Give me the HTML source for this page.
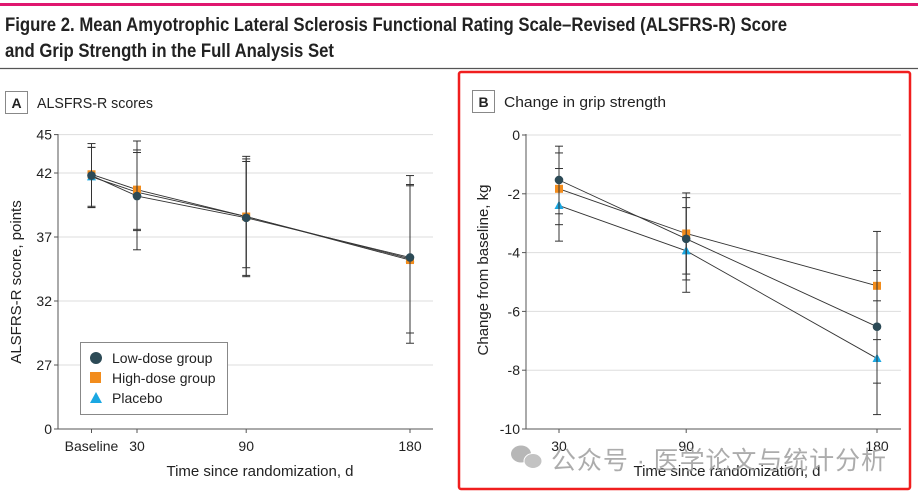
<!DOCTYPE html>
<html><head><meta charset="utf-8">
<style>
body{margin:0;background:#fff;width:918px;height:494px;overflow:hidden;font-family:"Liberation Sans","Noto Sans CJK SC",sans-serif;}
svg text{font-family:"Liberation Sans","Noto Sans CJK SC",sans-serif;}
</style></head><body>
<svg id="fig" width="918" height="494" viewBox="0 0 918 494" xmlns="http://www.w3.org/2000/svg">
<rect x="0" y="3" width="918" height="3" fill="#e0176f"/>
<text x="5" y="31" font-size="19" font-weight="bold" fill="#222" textLength="782" lengthAdjust="spacingAndGlyphs">Figure 2. Mean Amyotrophic Lateral Sclerosis Functional Rating Scale–Revised (ALSFRS-R) Score</text>
<text x="5" y="57" font-size="19" font-weight="bold" fill="#222" textLength="329" lengthAdjust="spacingAndGlyphs">and Grip Strength in the Full Analysis Set</text>
<line x1="0" y1="68.5" x2="918" y2="68.5" stroke="#555" stroke-width="1.3"/>
<rect x="459" y="72" width="451" height="417" rx="2" fill="none" stroke="#f01e1e" stroke-width="2.5"/>

<rect x="5.5" y="91.5" width="22" height="22" fill="none" stroke="#888"/>
<text x="16.5" y="108" font-size="14" font-weight="bold" text-anchor="middle" fill="#222">A</text>
<text x="37" y="108" font-size="15" fill="#222" textLength="116" lengthAdjust="spacingAndGlyphs">ALSFRS-R scores</text>

<rect x="472.5" y="90.5" width="22" height="22" fill="none" stroke="#888"/>
<text x="483.5" y="107" font-size="14" font-weight="bold" text-anchor="middle" fill="#222">B</text>
<text x="504" y="107" font-size="15" fill="#222" textLength="162" lengthAdjust="spacingAndGlyphs">Change in grip strength</text>

<g id="panelA"></g>
<g id="panelB"></g>

<g>
<rect x="80.5" y="342.5" width="147" height="72" fill="#fff" stroke="#888"/>
<g><circle cx="96" cy="358" r="6" fill="#2c4a56"/><text x="112" y="363" font-size="14" fill="#222">Low-dose group</text></g>
<g><rect x="90" y="372" width="11" height="11" fill="#f28c1c"/><text x="112" y="383" font-size="14" fill="#222">High-dose group</text></g>
<g><polygon points="96,392 102,403 90,403" fill="#1aa7e2"/><text x="112" y="403" font-size="14" fill="#222">Placebo</text></g>
</g>

<g id="panelOverlay"></g>
<g opacity="0.9">
<ellipse cx="521" cy="454" rx="10" ry="8.5" fill="#b0b0b0"/>
<ellipse cx="533" cy="461" rx="9" ry="7.5" fill="#bdbdbd" stroke="#fff" stroke-width="1"/>
<text x="551" y="469" font-size="25" fill="#a4a4a4" textLength="335">公众号 · 医学论文与统计分析</text>
</g>
</svg>
<script>
// Panel A data (ALSFRS-R)
const aCategories = ["Baseline","30","90","180"];
const aDays = [5, 30, 90, 180];
const aYTicks = [27, 32, 37, 42, 45];
const aLow = [41.8, 40.2, 38.5, 35.4];
const aLowLo = [39.3, 36.0, 33.9, 29.5];
const aLowHi = [44.3, 44.5, 43.1, 41.1];
const aHigh = [41.9, 40.7, 38.6, 35.2];
const aHighLo = [39.4, 37.6, 34.0, 28.7];
const aHighHi = [44.0, 43.8, 43.3, 41.8];
const aPlac = [41.7, 40.5, 38.6, 35.3];
const aPlacLo = [39.3, 37.5, 34.6, 29.5];
const aPlacHi = [44.0, 43.6, 42.9, 41.0];
// Panel B data (grip strength change, kg)
const bCategories = ["30","90","180"];
const bDays = [30, 90, 180];
const bYTicks = [0, -2, -4, -6, -8, -10];
const bLow = [-1.53, -3.53, -6.52];
const bLowLo = [-2.68, -4.93, -8.44];
const bLowHi = [-0.38, -2.13, -4.61];
const bHigh = [-1.83, -3.35, -5.13];
const bHighLo = [-3.05, -4.73, -6.96];
const bHighHi = [-0.61, -1.97, -3.28];
const bPlac = [-2.40, -3.94, -7.60];
const bPlacLo = [-3.61, -5.35, -9.51];
const bPlacHi = [-1.14, -2.47, -5.64];

const NS = "http://www.w3.org/2000/svg";
function mk(parent, tag, attrs, text){
  const e = document.createElementNS(NS, tag);
  for (const k in attrs) e.setAttribute(k, attrs[k]);
  if (text !== undefined) e.textContent = text;
  parent.appendChild(e);
  return e;
}
const COL = {low:"#2c4a56", high:"#f28c1c", plac:"#1aa7e2"};

function marker(g, kind, x, y){
  let m;
  if (kind === "low") m = mk(g, "circle", {cx:x, cy:y, r:4.3, fill:COL.low});
  else if (kind === "high") m = mk(g, "rect", {x:x-4, y:y-4, width:8, height:8, fill:COL.high});
  else m = mk(g, "polygon", {points:`${x},${y-5} ${x+4.5},${y+3.5} ${x-4.5},${y+3.5}`, fill:COL.plac});
  return m;
}

function series(g, name, kind, days, vals, lo, hi, xs, ys){
  const sg = mk(g, "g", {});
  
  
  days.forEach((d,i)=>{
    const x = xs(d);
    const eb = mk(sg, "g", {stroke:"#333", "stroke-width":1});
    
    
    mk(eb, "line", {x1:x, x2:x, y1:ys(lo[i]), y2:ys(hi[i])});
    mk(eb, "line", {x1:x-4, x2:x+4, y1:ys(lo[i]), y2:ys(lo[i])});
    mk(eb, "line", {x1:x-4, x2:x+4, y1:ys(hi[i]), y2:ys(hi[i])});
  });
  const pts = days.map((d,i)=>xs(d)+","+ys(vals[i])).join(" ");
  const pl = mk(sg, "polyline", {points:pts, fill:"none", stroke:"#333", "stroke-width":0.9});
  
  
  return {sg, draw: ()=>days.forEach((d,i)=>{
    const m = marker(sg, kind, xs(d), ys(vals[i]));
    
    
  })};
}

// ---------- Panel A ----------
(function(){
  const g = document.getElementById("panelA");
  const L = 58, R = 433, bottom = 429;
  const ys = v => 365 - (v - 27) * 12.8;
  const xs = d => 137 + (d - 30) * 1.82;
  aYTicks.forEach(t=>{
    const gl = mk(g, "line", {x1:L, x2:R, y1:ys(t), y2:ys(t), stroke:"#ddd", "stroke-width":1});
    
    
    mk(g, "line", {x1:L-4, x2:L, y1:ys(t), y2:ys(t), stroke:"#555"});
    const tl = mk(g, "text", {x:L-6, y:ys(t)+5, "font-size":14, "text-anchor":"end", fill:"#222"}, String(t));
    
    
  });
  mk(g, "line", {x1:L-4, x2:L, y1:bottom, y2:bottom, stroke:"#555"});
  const z = mk(g, "text", {x:L-6, y:bottom+5, "font-size":14, "text-anchor":"end", fill:"#222"}, "0");
  
  
  mk(g, "line", {x1:L, x2:L, y1:134, y2:bottom, stroke:"#555"});
  mk(g, "line", {x1:L, x2:R, y1:bottom, y2:bottom, stroke:"#555"});
  aDays.forEach((d,i)=>{
    mk(g, "line", {x1:xs(d), x2:xs(d), y1:bottom, y2:bottom+4, stroke:"#555"});
    const tl = mk(g, "text", {x:xs(d), y:bottom+22, "font-size":14, "text-anchor":"middle", fill:"#222"}, aCategories[i]);
    
    
  });
  const xt = mk(g, "text", {x:260, y:476, "font-size":15, "text-anchor":"middle", fill:"#222"}, "Time since randomization, d");
  
  
  const yt = mk(g, "text", {x:0, y:0, "font-size":15, "text-anchor":"middle", fill:"#222", transform:"translate(21,282) rotate(-90)"}, "ALSFRS-R score, points");
  
  
  const s1 = series(g, "a-placebo", "plac", aDays, aPlac, aPlacLo, aPlacHi, xs, ys);
  const s2 = series(g, "a-high-dose", "high", aDays, aHigh, aHighLo, aHighHi, xs, ys);
  const s3 = series(g, "a-low-dose", "low", aDays, aLow, aLowLo, aLowHi, xs, ys);
  s1.draw(); s2.draw(); s3.draw();
})();

// ---------- Panel B ----------
(function(){
  const g = document.getElementById("panelB");
  const L = 526, R = 901, bottom = 429;
  const ys = v => 135 - v * 29.4;
  const xs = d => 559 + (d - 30) * 2.12;
  bYTicks.forEach(t=>{
    if (t !== -10) {
      const gl = mk(g, "line", {x1:L, x2:R, y1:ys(t), y2:ys(t), stroke:"#ddd", "stroke-width":1});
      
      
    }
    mk(g, "line", {x1:L-4, x2:L, y1:ys(t), y2:ys(t), stroke:"#555"});
    const tl = mk(g, "text", {x:L-6, y:ys(t)+5, "font-size":14, "text-anchor":"end", fill:"#222"}, String(t));
    
    
  });
  mk(g, "line", {x1:L, x2:L, y1:134, y2:bottom, stroke:"#555"});
  mk(g, "line", {x1:L, x2:R, y1:bottom, y2:bottom, stroke:"#555"});
  bDays.forEach((d,i)=>{
    mk(g, "line", {x1:xs(d), x2:xs(d), y1:bottom, y2:bottom+4, stroke:"#555"});
    const tl = mk(g, "text", {x:xs(d), y:bottom+22, "font-size":14, "text-anchor":"middle", fill:"#222"}, bCategories[i]);
    
    
  });
  const xt = mk(g, "text", {x:727, y:476, "font-size":15, "text-anchor":"middle", fill:"#222"}, "Time since randomization, d");
  
  
  const yt = mk(g, "text", {x:0, y:0, "font-size":15, "text-anchor":"middle", fill:"#222", transform:"translate(488,270) rotate(-90)"}, "Change from baseline, kg");
  
  
  const s1 = series(g, "b-placebo", "plac", bDays, bPlac, bPlacLo, bPlacHi, xs, ys);
  const s2 = series(g, "b-high-dose", "high", bDays, bHigh, bHighLo, bHighHi, xs, ys);
  const s3 = series(g, "b-low-dose", "low", bDays, bLow, bLowLo, bLowHi, xs, ys);
  s1.draw(); s2.draw(); s3.draw();
})();
</script>
</body></html>
